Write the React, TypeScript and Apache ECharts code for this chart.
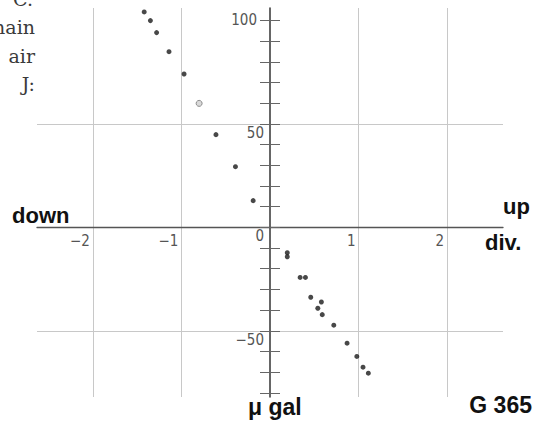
import React, { useEffect, useRef } from "react";
import * as echarts from "echarts";

// tick labels / ticks
const xTickLabels = [-2, -1, 1, 2];
const yTickLabels = [100, 50, 0, -50];
const yMinorTicks = [-80, -70, -60, -50, -40, -30, -20, -10, 0, 10, 20, 30, 40, 50, 60, 70, 80, 90, 100];
const xGridLines = [-2, -1, 1, 2];
const yGridLines = [50, -50];

// measured points (div., μgal)
const filledX = [-1.42, -1.35, -1.28, -1.14, -0.97, -0.61, -0.39, -0.19, 0.195, 0.195, 0.34, 0.4, 0.46, 0.58, 0.54, 0.59, 0.72, 0.87, 0.98, 1.05, 1.11];
const filledY = [104.1, 99.9, 94.1, 84.9, 74.1, 44.8, 29.3, 12.9, -12.3, -14.2, -24.2, -24.2, -33.8, -36.1, -39.1, -42.2, -47.3, -56.0, -62.4, -67.6, -70.5];
const openX = [-0.8];
const openY = [59.9];

const X_MIN = -2.63;
const X_MAX = 2.63;
const Y_MIN = -82;
const Y_MAX = 106;

const tickFont = "'Liberation Sans Narrow', 'DejaVu Sans Condensed', sans-serif";
const boldFont = "'Liberation Sans', Arial, sans-serif";
const serifFont = "'DejaVu Serif', 'Liberation Serif', serif";

const fmt = (v: number) => (v < 0 ? "\u2212" + Math.abs(v) : String(v));

export default function App() {
  const ref = useRef<HTMLDivElement>(null);
  useEffect(() => {
    if (!ref.current) return;
    const chart = echarts.init(ref.current, undefined, { renderer: "svg" });
    const W = 536, H = 422;
    const grid = { left: 37, right: 33, top: 8, bottom: 25 };
    const gw = W - grid.left - grid.right;
    const gh = H - grid.top - grid.bottom;
    // offsets that put the axes through the origin
    const xAxisOffset = -(gh * (0 - Y_MIN)) / (Y_MAX - Y_MIN);
    const yAxisOffsetLeft = -(gw * (0 - X_MIN)) / (X_MAX - X_MIN);
    const yAxisOffsetRight = -(gw * (X_MAX - 0)) / (X_MAX - X_MIN);
    const tickLabelStyle = { fontFamily: tickFont, fontSize: 15, color: "#555" };
    const option: any = {
      animation: false,
      backgroundColor: "#ffffff",
      grid: { ...grid, containLabel: false },
      xAxis: {
        type: "value",
        min: X_MIN,
        max: X_MAX,
        z: 3,
        position: "bottom",
        offset: xAxisOffset,
        axisLine: { onZero: false, lineStyle: { color: "#555", width: 1.3 } },
        axisTick: { show: false },
        splitLine: { show: false },
        axisLabel: {
          customValues: xTickLabels,
          align: "right",
          verticalAlign: "top",
          margin: 6,
          padding: [0, 3, 0, 0],
          ...tickLabelStyle,
          formatter: (v: number) => fmt(v),
        },
      },
      yAxis: [
        {
          type: "value",
          min: Y_MIN,
          max: Y_MAX,
          z: 3,
          position: "left",
          offset: yAxisOffsetLeft,
          axisLine: { onZero: false, lineStyle: { color: "#333", width: 1.5 } },
          axisTick: { show: true, customValues: yMinorTicks, length: 10, lineStyle: { color: "#666", width: 1 } },
          splitLine: { show: false },
          axisLabel: {
            customValues: yTickLabels,
            margin: 6,
            formatter: (v: number) => (v === 100 ? `{a|${fmt(v)}}` : `{b|${fmt(v)}}`),
            rich: {
              a: { ...tickLabelStyle, padding: [0, 7, 0, 0] },
              b: { ...tickLabelStyle, padding: [18, 0, 0, 0] },
            },
          },
        },
        {
          type: "value",
          min: Y_MIN,
          max: Y_MAX,
          z: 3,
          position: "right",
          offset: yAxisOffsetRight,
          axisLine: { show: false, onZero: false },
          axisTick: { show: true, customValues: yMinorTicks, length: 10, lineStyle: { color: "#666", width: 1 } },
          splitLine: { show: false },
          axisLabel: { show: false },
        },
      ],
      series: [
        {
          type: "scatter",
          z: 4,
          symbol: "circle",
          symbolSize: 5,
          itemStyle: { color: "#1a1a1a" },
          data: filledX.map((x, i) => [x, filledY[i]]),
          markLine: {
            silent: true,
            z: 1,
            symbol: ["none", "none"],
            label: { show: false },
            lineStyle: { color: "#c8c8c8", width: 1, type: "solid" },
            data: [
              ...xGridLines.map((v) => ({ xAxis: v })),
              ...yGridLines.map((v) => ({ yAxis: v })),
            ],
          },
        },
        {
          type: "scatter",
          z: 4,
          symbol: "circle",
          symbolSize: 6,
          itemStyle: { color: "#cfcfcf", borderColor: "#777", borderWidth: 1 },
          data: openX.map((x, i) => [x, openY[i]]),
        },
      ],
      graphic: [
        { type: "text", left: 12, top: 204, style: { text: "down", font: `bold 22px ${boldFont}`, fill: "#111" } },
        { type: "text", x: 503, y: 206.5, style: { text: "up", font: `bold 22px ${boldFont}`, fill: "#111", verticalAlign: "middle" } },
        { type: "text", x: 485, y: 242.5, style: { text: "div.", font: `bold 22px ${boldFont}`, fill: "#111", verticalAlign: "middle" } },
        { type: "text", x: 248, y: 406.5, style: { text: "μ gal", font: `bold 23px ${boldFont}`, fill: "#111", verticalAlign: "middle" } },
        { type: "text", x: 532, y: 404.5, style: { text: "G 365", font: `bold 23px ${boldFont}`, fill: "#111", align: "right", verticalAlign: "middle" } },
        { type: "text", x: 33, y: -1, style: { text: "C.", font: `19px ${serifFont}`, fill: "#3a3a3a", align: "right", verticalAlign: "middle" } },
        { type: "text", x: 35, y: 26.5, style: { text: "nain", font: `19px ${serifFont}`, fill: "#3a3a3a", align: "right", verticalAlign: "middle" } },
        { type: "text", x: 35, y: 56, style: { text: "air", font: `19px ${serifFont}`, fill: "#3a3a3a", align: "right", verticalAlign: "middle" } },
        { type: "text", x: 35, y: 83.5, style: { text: "J:", font: `19px ${serifFont}`, fill: "#3a3a3a", align: "right", verticalAlign: "middle" } },
      ],
    };
    chart.setOption(option);
    return () => chart.dispose();
  }, []);
  return <div ref={ref} style={{ position: "fixed", left: 0, top: 0, width: 536, height: 422 }} />;
}
